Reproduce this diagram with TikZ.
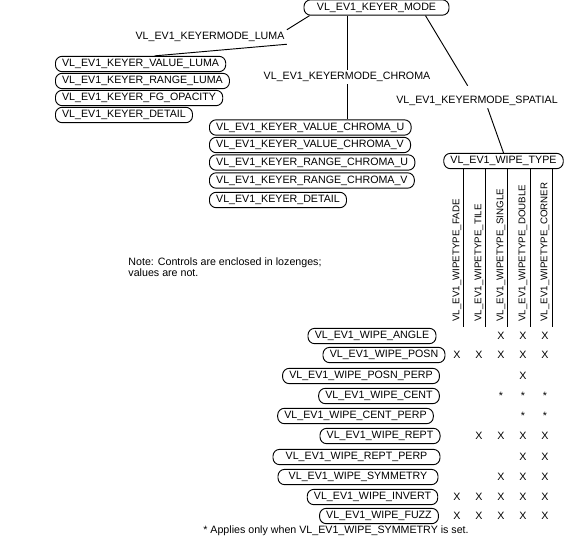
\documentclass[tikz,border=0pt]{standalone}
\usepackage{fontspec}
\setmainfont{Liberation Sans}
\usetikzlibrary{calc}

\begin{document}
\begin{tikzpicture}[x=0.75pt,y=-0.75pt,line width=0.7pt,
  every node/.style={font=\fontsize{8}{8.4}\selectfont,inner sep=1.5pt},
  lozenge/.style={draw,rounded corners=5pt,minimum height=11.5pt,inner xsep=5pt,inner ysep=0pt}]
  \useasboundingbox (0,0) rectangle (566,542);
  \node[lozenge,minimum width=108.75pt] (mode) at (376.5,7.5) {VL\_EV1\_KEYER\_MODE};
  \node (lumaLbl) at (210,37) {VL\_EV1\_KEYERMODE\_LUMA};
  \node (chromaLbl) at (347,77) {VL\_EV1\_KEYERMODE\_CHROMA};
  \node (spatialLbl) at (477,101) {VL\_EV1\_KEYERMODE\_SPATIAL};
  \foreach \t/\y [count=\i] in {VALUE\_LUMA/64,RANGE\_LUMA/81,FG\_OPACITY/98,DETAIL/115}
    \node[lozenge,anchor=west] (luma\i) at (55,\y) {VL\_EV1\_KEYER\_\t};
  \foreach \t/\y [count=\i] in {VALUE\_CHROMA\_U/127.5,VALUE\_CHROMA\_V/145,RANGE\_CHROMA\_U/162.5,RANGE\_CHROMA\_V/180.5,DETAIL/200}
    \node[lozenge,anchor=west] (chroma\i) at (209,\y) {VL\_EV1\_KEYER\_\t};
  \node[lozenge,minimum width=87.75pt] (wipe) at (503.5,161) {VL\_EV1\_WIPE\_TYPE};
  \draw ([xshift=4.5pt]mode.south west) -- (lumaLbl.north east);
  \draw (lumaLbl.south east) -- (luma1.30);
  \draw (mode.south -| chromaLbl.north) -- (chromaLbl.north);
  \draw (chromaLbl.south) -- (chromaLbl.south |- chroma1.north);
  \draw ([xshift=-18pt]mode.south east) -- ([xshift=-7pt,yshift=6pt]spatialLbl.north);
  \draw ([xshift=8pt]spatialLbl.south) -- (wipe.north);
  \foreach \x [count=\i] in {463,485,507,530,552}{
    \coordinate (col\i) at (\x,327);
    \draw (col\i |- wipe.south) -- (col\i);
  }
  \foreach \t [count=\i] in {FADE,TILE,SINGLE,DOUBLE,CORNER}
    \node[rotate=90,anchor=west,inner sep=0pt,font=\fontsize{7.3}{8}\selectfont] (wt\i) at ({435+22*\i},322) {VL\_EV1\_WIPETYPE\_\t};
  \node[align=left,anchor=north west,inner sep=0pt] (note) at (128,257)
    {Note: Controls are enclosed in lozenges;\\values are not.};
  \foreach \t/\y/\c/\w/\m [count=\i] in {
      ANGLE/336/372/128/{0,0,1,1,1},
      POSN/355/384/122/{1,1,1,1,1},
      POSN\_PERP/376/361/152/{0,0,0,1,0},
      CENT/396/379/112/{0,0,2,2,2},
      CENT\_PERP/416/355.5/155/{0,0,0,2,2},
      REPT/436/380/114/{0,1,1,1,1},
      REPT\_PERP/457/356.5/167/{0,0,0,1,1},
      SYMMETRY/477/358/160/{0,0,1,1,1},
      INVERT/497/372.5/129/{1,1,1,1,1},
      FUZZ/516/379/112/{1,1,1,1,1}}{
    \node[lozenge,minimum width=\w*0.75pt] (row\i) at (\c,\y) {VL\_EV1\_WIPE\_\t};
    \foreach \k [count=\j] in \m
      \node (mk\i-\j) at ({435+22*\j},\y) {\ifcase\k\or X\or *\fi};
  }
  \node (foot) at (336,531) {* Applies only when VL\_EV1\_WIPE\_SYMMETRY is set.};
\end{tikzpicture}
\end{document}
